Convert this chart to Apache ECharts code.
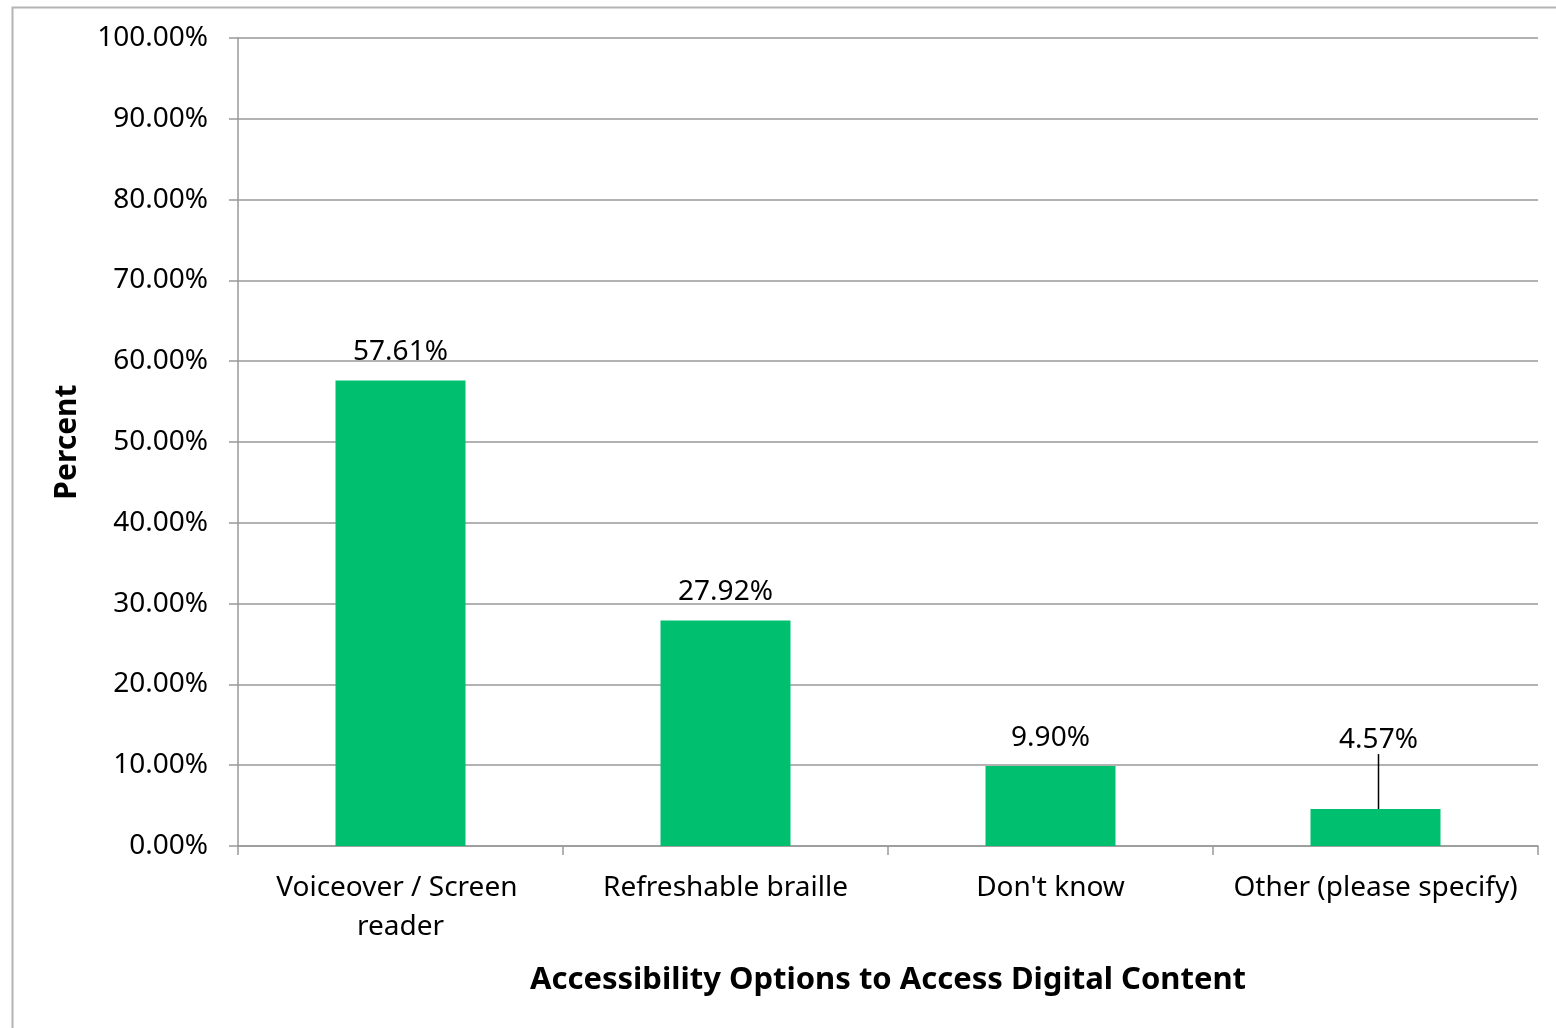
<!DOCTYPE html>
<html>
<head>
<meta charset="utf-8">
<script src="https://cdn.jsdelivr.net/npm/echarts@6/dist/echarts.min.js"></script>
<style>
  html, body { margin: 0; padding: 0; background: #fff; }
  #chart { width: 1556px; height: 1028px; }
</style>
</head>
<body>
<div id="chart"></div>
<script>
// Survey responses: accessibility options used to access digital content (percent)
const categories = ['Voiceover / Screen reader', 'Refreshable braille', "Don't know", 'Other (please specify)'];
const percents = [57.61, 27.92, 9.90, 4.57];
const yTicks = [0, 10, 20, 30, 40, 50, 60, 70, 80, 90, 100];

const FONT = '"Noto Sans", "Open Sans", sans-serif';
const GRAY = '#999999';

// The smallest bar's label sits above the nearby gridline, tied back by a leader line
const barData = percents.map((v, i) => i === 3
  ? { value: v, labelLine: { show: true } }
  : { value: v });

const chart = echarts.init(document.getElementById('chart'), null, { renderer: 'canvas' });

chart.setOption({
  animation: false,
  backgroundColor: '#ffffff',
  textStyle: { fontFamily: FONT, color: '#000' },
  graphic: [{
    type: 'rect',
    left: 10, top: 5,
    shape: { width: 1600, height: 1100 },
    style: { fill: 'none', stroke: '#b4b4b4', lineWidth: 2 },
    silent: true
  }],
  grid: { left: 238, right: 18, top: 38, bottom: 182 },
  xAxis: {
    type: 'category',
    data: categories,
    name: 'Accessibility Options to Access Digital Content',
    nameLocation: 'middle',
    nameGap: 119,
    nameTextStyle: { fontFamily: FONT, fontSize: 31, fontWeight: 'bold', color: '#000' },
    axisLine: { lineStyle: { color: GRAY, width: 1.5 } },
    axisTick: { show: true, length: 9, alignWithLabel: false, lineStyle: { color: GRAY, width: 1.5 } },
    axisLabel: {
      fontFamily: FONT, fontSize: 28, color: '#000',
      margin: 23, lineHeight: 39,
      width: 310, overflow: 'break', interval: 0
    }
  },
  yAxis: {
    type: 'value',
    min: yTicks[0], max: yTicks[yTicks.length - 1], interval: 10,
    name: 'Percent',
    nameLocation: 'middle',
    nameGap: 156,
    nameRotate: 90,
    nameTextStyle: { fontFamily: FONT, fontSize: 30, fontWeight: 'bold', color: '#000' },
    axisLine: { show: true, lineStyle: { color: GRAY, width: 1.5 } },
    axisTick: { show: true, length: 9, lineStyle: { color: GRAY, width: 1.5 } },
    splitLine: { show: true, lineStyle: { color: GRAY, width: 1.5 } },
    axisLabel: {
      fontFamily: FONT, fontSize: 28, color: '#000', margin: 30,
      formatter: v => v.toFixed(2) + '%'
    }
  },
  series: [{
    type: 'bar',
    data: barData,
    barWidth: '40%',
    itemStyle: { color: '#00BF6F' },
    label: {
      show: true, position: 'top', distance: 14,
      fontFamily: FONT, fontSize: 28, color: '#000',
      formatter: p => p.value.toFixed(2) + '%'
    },
    labelLayout: p => (p.dataIndex === 3 ? { dy: -41, dx: 3 } : {}),
    labelLine: { show: false, lineStyle: { color: '#000', width: 1.5 } }
  }]
});
</script>
</body>
</html>
